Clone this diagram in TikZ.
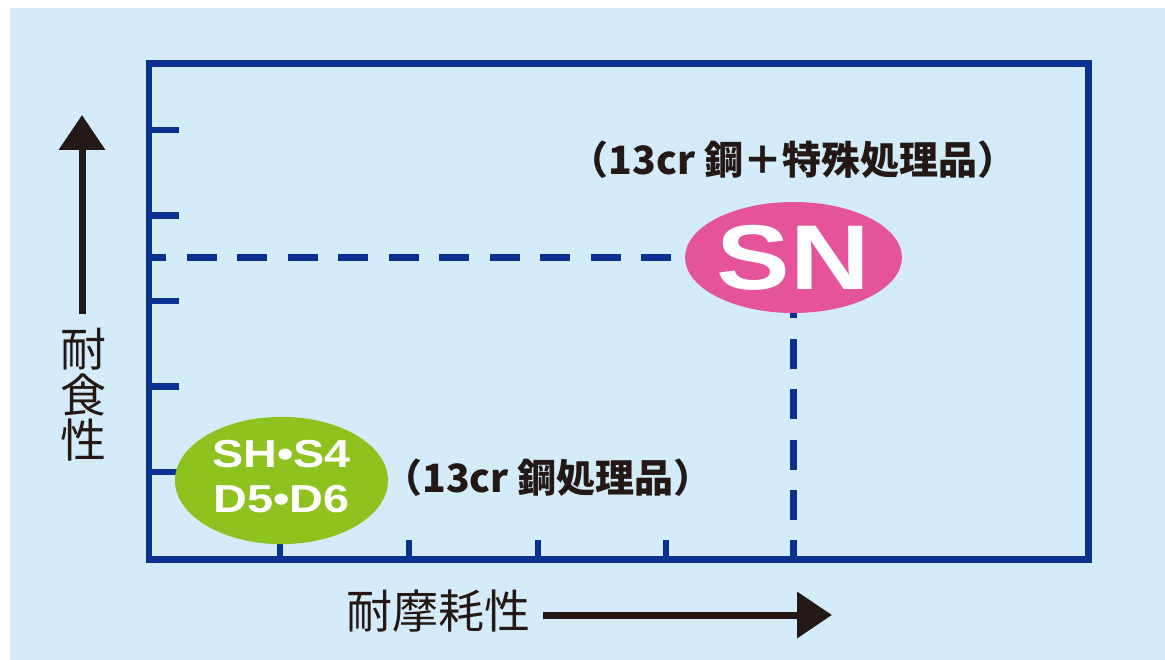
\documentclass[tikz,border=0pt]{standalone}
\usepackage{fontspec}
\newfontfamily\jpfont{Noto Sans CJK JP}
\newfontfamily\latfont{Liberation Sans}
\usetikzlibrary{arrows.meta,shapes.geometric}

\definecolor{bgblue}{HTML}{D4ECF9}
\definecolor{axisblue}{HTML}{0B3190}
\definecolor{snpink}{HTML}{E5549A}
\definecolor{shgreen}{HTML}{8DC21F}
\definecolor{inkblack}{HTML}{231815}

\tikzset{
  axisline/.style={draw=axisblue, line width=6.5pt},
  guide/.style={draw=axisblue, line width=6.5pt, dash pattern=on 30pt off 20.5pt},
  grade/.style={ellipse, inner sep=0pt, text=white, font=\latfont\bfseries},
  note/.style={text=inkblack, font=\jpfont\bfseries\fontsize{39}{39}\selectfont, inner sep=0pt},
  axislabel/.style={text=inkblack, font=\jpfont\fontsize{46}{45.5}\selectfont, inner sep=0pt},
  bigarrow/.style={draw=inkblack, line width=7pt, -{Triangle[length=35pt,width=45pt]}},
}

\begin{document}
\begin{tikzpicture}[x=1pt,y=-1pt]
        \useasboundingbox (0,0) rectangle (1165,660);
        \fill[bgblue] (10,8) rectangle (1165,660);

        % Frame and ticks
        \draw[axisline] (149,63.5) rectangle (1088.5,559.5);
        \foreach \ty in {130,215.5,301,386.5,472}
          \draw[axisline] (149,\ty) -- (179,\ty);
        \foreach \tx in {280,409,538,666,793.5}
          \draw[axisline] (\tx,559.5) -- (\tx,540);

        % Grades
        \node[grade, fill=snpink, minimum width=212pt, minimum height=111pt] (sn) at (793.5,257.5)
          {\fontsize{92}{92}\selectfont\scalebox{1.2}[1]{SN}};
        \node[grade, fill=shgreen, minimum width=213pt, minimum height=113pt] (sh) at (281.5,480.5)
          {\fontsize{39}{45}\selectfont\scalebox{1.2}[1]{\begin{tabular}{@{}c@{}}SH•S4\\D5•D6\end{tabular}}};

        % Notes
        \node[note] (snnote) at (793,160) {（13cr 鋼＋特殊処理品）};
        \node[note] (shnote) at (548,478) {（13cr 鋼処理品）};

        % Dashed guides
        \coordinate (yref) at (152,257.5);
        \coordinate (xref) at (793.5,557);
        \draw[guide, dash phase=16pt] (yref) -- (sn.west);
        \draw[guide, dash phase=25pt] (sn.south) -- (xref);

        % Axis labels and arrows
        \coordinate (ytip) at (82,115);
        \coordinate (xtip) at (832,615);
        \node[axislabel, align=center] (ylabel) at (83,395) {耐\\食\\性};
        \node[axislabel] (xlabel) at (438.5,611) {耐摩耗性};
        \draw[bigarrow, shorten <=14pt] (ylabel.north -| ytip) -- (ytip);
        \draw[bigarrow, shorten <=12.5pt] (xlabel.east |- xtip) -- (xtip);
\end{tikzpicture}
\end{document}
